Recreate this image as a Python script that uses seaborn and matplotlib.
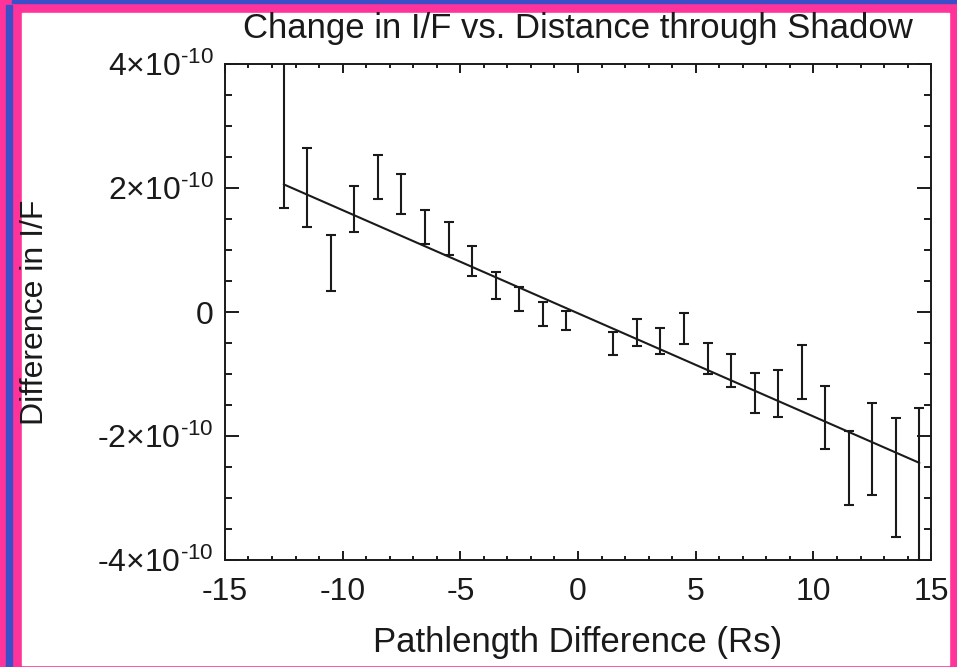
import numpy as np
import pandas as pd
import matplotlib
matplotlib.use('Agg')
import matplotlib.pyplot as plt
import matplotlib.patches as mpatches
from matplotlib.ticker import MultipleLocator, FixedLocator, FixedFormatter
import seaborn as sns

# error bar positions (Rs) and bar ends, in units of 1e-10
path_diff = [-12.5, -11.5, -10.5, -9.5, -8.5, -7.5, -6.5, -5.5, -4.5, -3.5,
             -2.5, -1.5, -0.5, 1.5, 2.5, 3.5, 4.5, 5.5, 6.5, 7.5,
             8.5, 9.5, 10.5, 11.5, 12.5, 13.5, 14.5]
bar_low = [1.68, 1.38, 0.34, 1.29, 1.82, 1.59, 1.10, 0.92, 0.58, 0.21,
           0.02, -0.23, -0.28, -0.69, -0.55, -0.68, -0.51, -0.99, -1.21, -1.63,
           -1.69, -1.40, -2.21, -3.11, -2.94, -3.62, -4.60]
bar_high = [4.60, 2.64, 1.24, 2.04, 2.53, 2.23, 1.65, 1.45, 1.07, 0.64,
            0.41, 0.17, 0.02, -0.32, -0.11, -0.25, -0.02, -0.49, -0.67, -0.98,
            -0.94, -0.53, -1.19, -1.91, -1.46, -1.70, -1.54]

# linear fit drawn through the points (end points)
fit_x = [-12.5, 14.5]
fit_y = [2.06, -2.43]

unit = 1e-10
y_tick_vals = [-4e-10, -2e-10, 0, 2e-10, 4e-10]
y_tick_labels = ['-4\u00d710$^{\\text{-10}}$', '-2\u00d710$^{\\text{-10}}$', '0',
                 '2\u00d710$^{\\text{-10}}$', '4\u00d710$^{\\text{-10}}$']
x_tick_vals = [-15, -10, -5, 0, 5, 10, 15]
x_tick_labels = ['-15', '-10', '-5', '0', '5', '10', '15']

sns.set_theme(style='ticks')
plt.rcParams['font.family'] = ['Liberation Sans', 'DejaVu Sans']
plt.rcParams['mathtext.fontset'] = 'custom'
plt.rcParams['mathtext.rm'] = 'Liberation Sans'
plt.rcParams['mathtext.it'] = 'Liberation Sans'
plt.rcParams['axes.unicode_minus'] = False

ink = '#1a1a1a'

df = pd.DataFrame({'x': path_diff,
                   'lo': np.array(bar_low) * unit,
                   'hi': np.array(bar_high) * unit})
df['mid'] = (df['lo'] + df['hi']) / 2
df['err'] = (df['hi'] - df['lo']) / 2

fig, ax = plt.subplots(figsize=(9.57, 6.67), dpi=100)
fig.subplots_adjust(left=0.235, right=0.973, bottom=0.160, top=0.904)

# pink / blue frame round the picture
fig.patch.set_facecolor('#ff3399')
frame = [((12 / 957, 1 - 3 / 667), 1, 3 / 667, '#3d4fc8'),
         ((6 / 957, 0), 6 / 957, 1 - 5 / 667, '#3d4fc8'),
         ((22 / 957, 2 / 667), 927 / 957, 652 / 667, 'white')]
for xy, w, h, c in frame:
    fig.patches.append(mpatches.Rectangle(xy, w, h, transform=fig.transFigure,
                                          color=c, zorder=-10))
ax.set_facecolor('white')

ax.errorbar(df['x'], df['mid'], yerr=df['err'], fmt='none', ecolor=ink,
            elinewidth=1.5, capsize=3.8, capthick=1.5)
sns.lineplot(x=fit_x, y=np.array(fit_y) * unit, ax=ax, color=ink, linewidth=1.5)

ax.set_xlim(-15, 15)
ax.set_ylim(-4e-10, 4e-10)
ax.xaxis.set_major_locator(FixedLocator(x_tick_vals))
ax.xaxis.set_major_formatter(FixedFormatter(x_tick_labels))
ax.xaxis.set_minor_locator(MultipleLocator(1))
ax.yaxis.set_major_locator(FixedLocator(y_tick_vals))
ax.yaxis.set_major_formatter(FixedFormatter(y_tick_labels))
ax.yaxis.set_minor_locator(MultipleLocator(0.5e-10))

ax.tick_params(axis='both', which='both', direction='in', top=True, right=True,
               colors=ink, width=1.4)
ax.tick_params(axis='x', which='major', length=6.5, labelsize=23, pad=12)
ax.tick_params(axis='x', which='minor', length=3.2)
ax.tick_params(axis='y', which='major', length=10, labelsize=23, pad=8)
ax.tick_params(axis='y', which='minor', length=5)
for side in ax.spines.values():
    side.set_linewidth(1.4)
    side.set_color(ink)

ax.set_title('Change in I/F vs. Distance through Shadow', fontsize=25, pad=19, color=ink)
ax.set_xlabel('Pathlength Difference (Rs)', fontsize=25, labelpad=14, color=ink)
ax.set_ylabel('Difference in I/F', fontsize=23, color=ink)
ax.yaxis.set_label_coords(-0.248, 0.5)

fig.savefig('out.png', dpi=100, facecolor=fig.get_facecolor())
